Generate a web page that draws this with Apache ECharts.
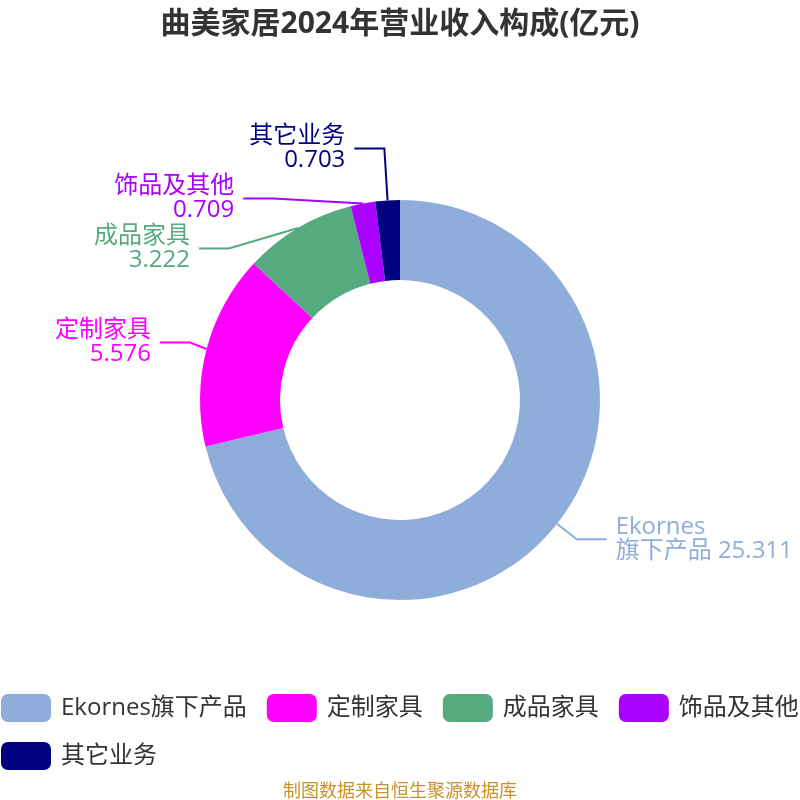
<!DOCTYPE html>
<html>
<head>
<meta charset="utf-8">
<script src="https://cdn.jsdelivr.net/npm/echarts@6/dist/echarts.min.js"></script>
<style>
  html, body { margin: 0; padding: 0; background: #fff; }
  #chart { width: 800px; height: 800px; }
</style>
</head>
<body>
<div id="chart"></div>
<script>
// 营业收入构成（亿元）
const categories = ['Ekornes旗下产品', '定制家具', '成品家具', '饰品及其他', '其它业务'];
const revenue = [25.311, 5.576, 3.222, 0.709, 0.703];
const colors = ['#8EADDB', '#FF00FF', '#55AA80', '#AA00FF', '#000080'];

const fontFamily = "'Open Sans', 'Noto Sans CJK SC', sans-serif";

const chart = echarts.init(document.getElementById('chart'));

const option = {
  color: colors,
  textStyle: { fontFamily },
  title: [
    {
      text: '曲美家居2024年营业收入构成(亿元)',
      left: 'center',
      top: 4,
      textStyle: { fontSize: 30, fontWeight: 'bold', color: '#333', fontFamily }
    },
    {
      text: '制图数据来自恒生聚源数据库',
      left: 'center',
      top: 778,
      textStyle: { fontSize: 18, fontWeight: 'normal', color: '#C8922A', fontFamily }
    }
  ],
  legend: {
    left: 1,
    top: 694,
    padding: 0,
    itemWidth: 50,
    itemHeight: 28,
    itemGap: 20,
    textStyle: { fontSize: 24, color: '#333', padding: [0, 0, 0, 5], fontFamily }
  },
  series: [
    {
      type: 'pie',
      center: ['50%', '50%'],
      radius: ['30%', '50%'],
      startAngle: 90,
      data: categories.map((name, i) => ({
        name,
        value: revenue[i],
        // 顶部最小扇区的引线拉长，让左侧标签整体上移
        labelLine: i === categories.length - 1 ? { length: 52 } : undefined
      })),
      label: {
        fontSize: 24,
        lineHeight: 24,
        color: 'inherit',
        fontFamily,
        overflow: 'none',
        distanceToLabelLine: 9,
        formatter: p => {
          // 英文开头的名称：英文一行，中文与数值一行
          const m = p.name.match(/^([A-Za-z]+)(.+)$/);
          return m ? m[1] + '\n' + m[2] + ' ' + p.value : p.name + '\n' + p.value;
        }
      },
      labelLine: {
        length: 25,
        length2: 30,
        lineStyle: { width: 2 }
      }
    }
  ]
};

chart.setOption(option);
</script>
</body>
</html>
